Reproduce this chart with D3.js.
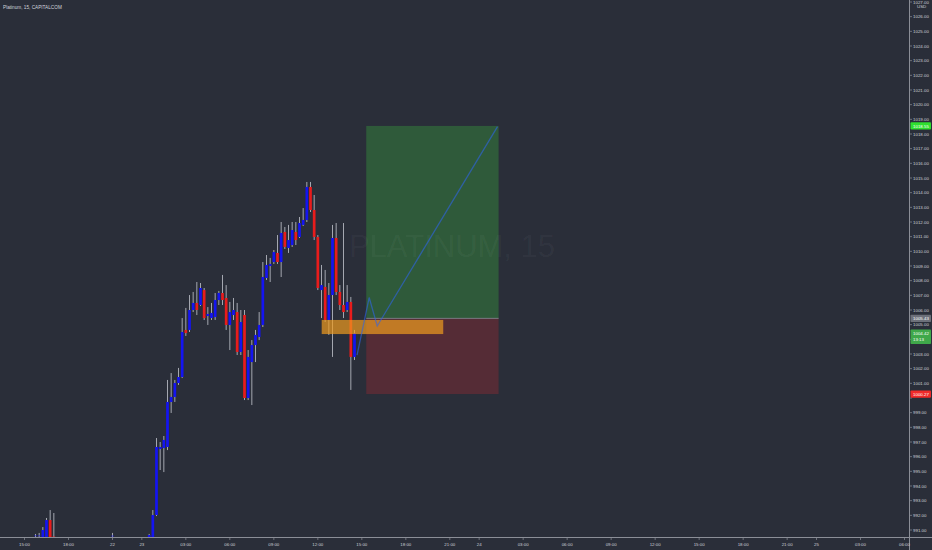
<!DOCTYPE html>
<html><head><meta charset="utf-8">
<script src="https://cdn.jsdelivr.net/npm/d3@7"></script>
<style>html,body{margin:0;padding:0;background:#2a2e39;overflow:hidden}</style>
</head><body><svg id="c" width="932" height="550"></svg>
<script>
// ---- data ----
const barIdx = [3,4,5,6,7,8,24,34,35,36,37,38,39,40,41,42,43,44,45,46,47,48,49,50,51,52,53,54,55,56,57,58,59,60,61,62,63,64,65,66,67,68,69,70,71,72,73,74,75,76,77,78,79,80,81,82,83,84,85,86,87,88,89,90];
const openP  = [990.59,990.59,990.52,990.52,991.68,990.55,990.59,990.52,990.52,992.02,996.52,996.59,996.66,999.73,1000.07,1001.02,1001.43,1004.64,1004.64,1006.00,1006.48,1006.34,1007.36,1005.59,1005.45,1005.52,1006.68,1007.16,1006.82,1004.98,1005.66,1005.86,1003.14,1005.66,1000.00,1002.45,1003.61,1004.16,1004.98,1008.18,1009.00,1009.27,1009.89,1009.27,1011.32,1010.23,1010.43,1011.32,1010.98,1011.80,1012.14,1014.39,1012.82,1010.98,1007.36,1007.57,1005.32,1007.02,1010.91,1007.23,1006.34,1006.00,1006.55,1002.80];
const highP  = [990.73,990.80,991.20,991.82,992.36,992.16,990.80,990.73,992.36,997.27,997.00,997.41,1001.23,1001.70,1001.23,1002.05,1005.45,1006.14,1007.02,1007.23,1007.91,1007.84,1007.50,1006.20,1006.48,1007.16,1007.30,1008.39,1007.70,1006.55,1006.82,1006.48,1006.00,1006.00,1003.27,1003.95,1004.64,1005.86,1009.27,1009.75,1009.55,1010.09,1011.11,1012.00,1011.66,1011.80,1012.00,1012.00,1012.34,1012.95,1014.73,1014.73,1013.84,1011.11,1009.07,1008.73,1007.84,1011.80,1011.93,1007.70,1011.93,1007.70,1006.89,1004.64];
const lowP   = [990.52,990.52,990.52,990.52,990.52,990.45,990.52,990.48,990.52,991.95,995.09,994.95,996.45,998.98,999.73,1000.89,1001.36,1004.23,1004.50,1005.86,1005.66,1006.27,1005.32,1004.98,1005.32,1005.32,1006.34,1006.34,1004.64,1003.27,1005.32,1002.93,1002.93,999.86,999.86,999.52,1002.45,1003.95,1004.84,1008.05,1007.91,1009.14,1009.14,1008.25,1010.16,1009.89,1010.30,1010.43,1010.91,1011.73,1012.00,1012.68,1010.77,1007.36,1005.45,1005.18,1004.30,1002.80,1007.02,1006.00,1005.45,1005.86,1000.55,1002.59];
const closeP = [990.62,990.62,991.00,991.68,990.52,990.48,990.61,990.66,992.02,996.66,996.66,997.14,999.73,1000.07,1001.02,1001.43,1004.50,1004.43,1006.00,1006.48,1006.00,1007.50,1005.45,1005.73,1005.80,1006.68,1007.16,1006.68,1004.98,1005.86,1006.00,1003.14,1005.18,1000.00,1002.80,1003.61,1004.30,1004.98,1008.25,1009.07,1009.14,1009.95,1009.27,1011.25,1010.30,1010.77,1011.45,1010.77,1011.93,1012.14,1014.39,1012.82,1010.98,1007.50,1007.70,1005.32,1007.02,1010.91,1007.23,1006.34,1005.86,1006.55,1002.80,1004.42];

const xTickIdx    = [0,12,24,32,44,56,68,80,92,104,116,124,136,148,160,172,184,196,208,216,228,240];
const xTickLabels = ["15:00","18:00","22","23","03:00","06:00","09:00","12:00","15:00","18:00","21:00","24","03:00","06:00","09:00","12:00","15:00","18:00","21:00","25","03:00","06:00"];
const yTickValues = [991,992,993,994,995,996,997,998,999,1000,1001,1002,1003,1004,1005,1006,1007,1008,1009,1010,1011,1012,1013,1014,1015,1016,1017,1018,1019,1020,1021,1022,1023,1024,1025,1026,1027];

// long position tool
const posIdx = [93.2, 129.3];
const entryPrice = 1005.43, targetPrice = 1018.55, stopPrice = 1000.27;
const zoneIdx = [81.05, 114.2];
const zonePrice = [1005.32, 1004.36];
const pathIdx   = [90.7, 94.0, 96.2, 129.0];
const pathPrice = [1002.93, 1006.85, 1004.91, 1018.5];

const tagValues = [1018.55, 1005.43, 1004.42, 1000.27];
const tagSub    = ["", "", "13:13", ""];

const titleText = "Platinum, 15, CAPITALCOM";
const watermark = "PLATINUM, 15";

// ---- drawing ----
const W = 932, H = 550, plotR = 909, plotB = 537;
const FONT = "Liberation Sans, Arial, sans-serif", FS = 4.4;
const svg = d3.select("#c");
const x = d3.scaleLinear().domain([0, 240]).range([24.5, 904.5]);
const y = d3.scaleLinear().domain([991, 1018]).range([530, 134]);

svg.append("rect").attr("width", W).attr("height", H).attr("fill", "#2a2e39");
svg.append("defs").append("clipPath").attr("id","plot").append("rect")
  .attr("x",0).attr("y",0).attr("width",plotR).attr("height",plotB);

const g = svg.append("g").attr("clip-path","url(#plot)");

// position boxes
g.append("rect").attr("x", x(posIdx[0])).attr("width", x(posIdx[1]) - x(posIdx[0]))
  .attr("y", y(targetPrice)).attr("height", y(entryPrice) - y(targetPrice)).attr("fill", "#2f5a3a");
g.append("rect").attr("x", x(posIdx[0])).attr("width", x(posIdx[1]) - x(posIdx[0]))
  .attr("y", y(entryPrice)).attr("height", y(stopPrice) - y(entryPrice)).attr("fill", "#552c36");
g.append("line").attr("x1", x(posIdx[0])).attr("x2", x(posIdx[1]))
  .attr("y1", y(entryPrice)).attr("y2", y(entryPrice)).attr("stroke", "#8a8d96").attr("stroke-width", 0.8);

// watermark
g.append("text").attr("x", 452).attr("y", 257).attr("text-anchor","middle")
  .attr("font-family",FONT).attr("font-size", 31)
  .attr("fill","#ffffff").attr("fill-opacity",0.045).text(watermark);

// candles
const candles = barIdx.map((d,i)=>({i:d,o:openP[i],h:highP[i],l:lowP[i],c:closeP[i]}));
g.selectAll(".wick").data(candles).join("line")
  .attr("x1", d=>x(d.i)).attr("x2", d=>x(d.i))
  .attr("y1", d=>y(d.h)).attr("y2", d=>y(d.l))
  .attr("stroke", "#a4a7b0").attr("stroke-width", 1);
const bw = 2.7;
g.selectAll(".body").data(candles).join("rect")
  .attr("x", d=>x(d.i)-bw/2).attr("width", bw)
  .attr("y", d=>y(Math.max(d.o,d.c)))
  .attr("height", d=>Math.max(0.6, Math.abs(y(d.o)-y(d.c))))
  .attr("fill", d=> d.c >= d.o ? "#1414f0" : "#e81c1c");

// orange zone
g.append("rect").attr("x", x(zoneIdx[0])).attr("width", x(zoneIdx[1]) - x(zoneIdx[0]))
  .attr("y", y(zonePrice[0])).attr("height", y(zonePrice[1]) - y(zonePrice[0]))
  .attr("fill", "rgb(240,155,30)").attr("fill-opacity", 0.7);

// projected path
g.append("path").datum(pathIdx.map((d,i)=>[x(d), y(pathPrice[i])]))
  .attr("d", d3.line()).attr("fill","none")
  .attr("stroke","#2f64e8").attr("stroke-opacity",0.6).attr("stroke-width",1.3);

// axes
const axisCol = "#8b8e97", txtCol = "#cdd0d7";
svg.append("line").attr("x1",0).attr("x2",W).attr("y1",plotB+0.5).attr("y2",plotB+0.5)
  .attr("stroke",axisCol).attr("stroke-width",1);
svg.append("line").attr("x1",plotR+0.5).attr("x2",plotR+0.5).attr("y1",0).attr("y2",H)
  .attr("stroke",axisCol).attr("stroke-width",1);

const xt = svg.append("g");
xTickIdx.forEach((d,i)=>{
  xt.append("line").attr("x1",x(d)).attr("x2",x(d)).attr("y1",plotB+1).attr("y2",plotB+3)
    .attr("stroke",axisCol).attr("stroke-width",0.7);
  xt.append("text").attr("x",x(d)).attr("y",545.5).attr("text-anchor","middle")
    .attr("font-family",FONT).attr("font-size",FS)
    .attr("fill",txtCol).text(xTickLabels[i]);
});

// tag boxes (for hiding covered tick labels)
const tagBoxes = tagValues.map((v,i)=>{
  const cy = y(v), two = tagSub[i] !== "";
  return {v, cy, top: cy - 3.6, h: two ? 14.5 : 7.2, two, sub: tagSub[i]};
});
const covered = yy => tagBoxes.some(b => yy + 1.6 > b.top && yy - 1.6 < b.top + b.h);

const yt = svg.append("g");
yTickValues.forEach(v=>{
  yt.append("line").attr("x1",plotR+1).attr("x2",plotR+3).attr("y1",y(v)).attr("y2",y(v))
    .attr("stroke",axisCol).attr("stroke-width",0.7);
  if (!covered(y(v)))
    yt.append("text").attr("x",913).attr("y",y(v)+1.6)
      .attr("font-family",FONT).attr("font-size",FS)
      .attr("fill",txtCol).text(d3.format(".2f")(v));
});
svg.append("text").attr("x",917).attr("y",8.4)
  .attr("font-family",FONT).attr("font-size",FS)
  .attr("fill",txtCol).text("USD");

// price tags
const tagFill = ["#2fe02f","#6d707a","#3fa84a","#f02a2a"];
tagBoxes.forEach((b,i)=>{
  svg.append("rect").attr("x",910.5).attr("y",b.top).attr("width",20.5).attr("height",b.h)
    .attr("rx",0.8).attr("fill",tagFill[i]);
  svg.append("text").attr("x",913).attr("y",b.cy+1.6)
    .attr("font-family",FONT).attr("font-size",FS)
    .attr("fill","#ffffff").text(d3.format(".2f")(b.v));
  if (b.two) svg.append("text").attr("x",913).attr("y",b.cy+7.8)
    .attr("font-family",FONT).attr("font-size",FS)
    .attr("fill","#ffffff").text(b.sub);
});

// title
svg.append("text").attr("x",3).attr("y",8.6)
  .attr("font-family",FONT).attr("font-size",4.7)
  .attr("fill","#d1d4dc").text(titleText);
</script></body></html>
